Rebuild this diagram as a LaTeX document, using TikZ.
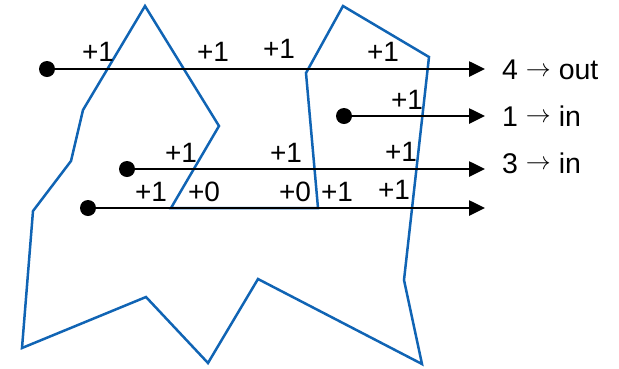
\documentclass[tikz,border=0pt]{standalone}
\usepackage{fontspec}
\setmainfont{Liberation Sans}
\usetikzlibrary{arrows.meta}
\definecolor{polyblue}{RGB}{16,100,180}
\newcommand{\resarrow}{\raisebox{3.5pt}{\fontsize{28}{30}\selectfont$\rightarrow$}}
\tikzset{
  ray/.style={draw=black, line width=2.6pt, -{Triangle[length=16pt,width=15pt]}},
  dot/.style={circle, fill=black, inner sep=0pt, minimum size=16pt},
  cnt/.style={inner sep=0pt, anchor=center, font=\fontsize{28}{30}\selectfont},
  res/.style={inner sep=0pt, anchor=west, font=\fontsize{28.5}{30}\selectfont},
  poly/.style={draw=polyblue, line width=2.5pt, line join=miter}
}
\begin{document}
\begin{tikzpicture}[x=1pt,y=-1pt]
\useasboundingbox (0,0) rectangle (619,368);
% polygon
\draw[poly] (145,6) -- (219,126) -- (171,208) -- (318,208) -- (306,73) -- (343,6)
  -- (429,57) -- (404,280) -- (422,364) -- (258,279) -- (208,363) -- (146,297)
  -- (22,348) -- (33,211) -- (71,161) -- (83,110) -- cycle;
% rays
\node[dot] (d1) at (47,69) {};
\node[dot] (d2) at (344,116) {};
\node[dot] (d3) at (127,169) {};
\node[dot] (d4) at (88,208) {};
\coordinate (e1) at (485,69);
\coordinate (e2) at (485,116);
\coordinate (e3) at (485,169);
\coordinate (e4) at (485,208);
\draw[ray] (d1.center) -- (e1);
\draw[ray] (d2.center) -- (e2);
\draw[ray] (d3.center) -- (e3);
\draw[ray] (d4.center) -- (e4);
% results
\node[res] (r1) at (502,70) {4 \resarrow{} out};
\node[res] (r2) at (502,116) {1 \resarrow{} in};
\node[res] (r3) at (502,163) {3 \resarrow{} in};
% counts row 1
\node[cnt] (a1) at (98,52) {+1};
\node[cnt] (a2) at (213,52) {+1};
\node[cnt] (a3) at (279,49) {+1};
\node[cnt] (a4) at (383,52) {+1};
% row 2
\node[cnt] (b1) at (407,100) {+1};
% row 3
\node[cnt] (c1) at (181,153) {+1};
\node[cnt] (c2) at (286,153) {+1};
\node[cnt] (c3) at (401,152) {+1};
% row 4
\node[cnt] (f1) at (151,192) {+1};
\node[cnt] (f2) at (204,192) {+0};
\node[cnt] (f3) at (295,192) {+0};
\node[cnt] (f4) at (337,192) {+1};
\node[cnt] (f5) at (394,190) {+1};
\end{tikzpicture}
\end{document}
